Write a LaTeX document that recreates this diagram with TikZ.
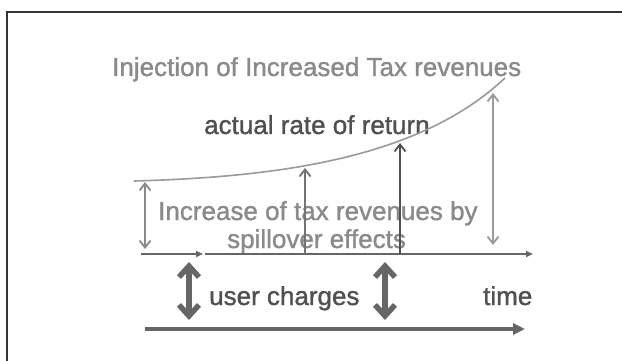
\documentclass[tikz,border=0pt]{standalone}
\usepackage{fontspec}
\setmainfont{Liberation Sans}
\newfontfamily\labelfont[FakeBold=1.2]{Liberation Sans}
\usetikzlibrary{arrows.meta}

\definecolor{lightgrey}{HTML}{8A8A8A}
\definecolor{darkgrey}{HTML}{505050}
\definecolor{midgrey}{HTML}{666666}
\definecolor{curvegrey}{HTML}{9A9A9A}

\begin{document}
\begin{tikzpicture}[
    x=1pt, y=-1pt,
    label/.style={font=\labelfont\fontsize{26}{30}\selectfont, inner sep=0pt, anchor=base west},
    thinarrow/.style={line width=1.8pt, {Straight Barb[length=7pt,width=11pt]}-{Straight Barb[length=7pt,width=11pt]}},
    uparrow/.style={line width=1.8pt, -{Straight Barb[length=7pt,width=11pt]}},
    axis/.style={line width=2pt, draw=midgrey, -{Triangle[length=7pt,width=6pt]}},
    fatarrow/.style={line width=5.5pt, draw=midgrey, {Straight Barb[length=11pt,width=20pt]}-{Straight Barb[length=11pt,width=20pt]}}
]

%Background
\useasboundingbox (0,0) rectangle (622,361);
\fill[white] (0,0) rectangle (622,361);
\draw[line width=1.5pt, draw=black!80] (7,361) -- (7,12) -- (622,12);

% Labels
\node[label, text=lightgrey] (injection) at (112,76) {Injection of Increased Tax revenues};
\node[label, text=darkgrey] (actual) at (204,134) {actual rate of return};
\node[label, text=lightgrey] (increase) at (158,220) {Increase of tax revenues by};
\node[label, text=lightgrey] (spillover) at (227,248) {spillover effects};
\node[label, text=darkgrey] (charges) at (209,305) {user charges};
\node[label, text=darkgrey] (time) at (483,305) {time};

% Curve
\coordinate (c_start) at (134,181);
\coordinate (c_end) at (505,78);
\draw[line width=1.6pt, draw=curvegrey] (c_start) .. controls (280,177) and (420,158) .. (c_end);

% Time axes
\coordinate (a_start) at (141,254);
\coordinate (a_mid) at (203,254);
\coordinate (b_start) at (205,254);
\coordinate (b_end) at (533,254);
\draw[axis] (a_start) -- (a_mid);
\draw[axis] (b_start) -- (b_end);

\coordinate (t_start) at (145,329);
\coordinate (t_end) at (525,329);
\draw[line width=3.5pt, draw=midgrey, -{Triangle[length=12pt,width=11pt]}] (t_start) -- (t_end);

% Vertical arrows
\coordinate (v1_top) at (145,182);
\coordinate (v1_bot) at (145,249);
\draw[thinarrow, draw=lightgrey] (v1_top) -- (v1_bot);

\coordinate (v2_bot) at (305,254);
\coordinate (v2_top) at (305,168);
\draw[uparrow, draw=black!55] (v2_bot) -- (v2_top);

\coordinate (v3_bot) at (400,254);
\coordinate (v3_top) at (400,143);
\draw[uparrow, draw=darkgrey] (v3_bot) -- (v3_top);

\coordinate (v4_top) at (493,93);
\coordinate (v4_bot) at (493,245);
\draw[thinarrow, draw=curvegrey] (v4_top) -- (v4_bot);

% User charges
\coordinate (u1_top) at (189,262);
\coordinate (u1_bot) at (189,320);
\draw[fatarrow] (u1_top) -- (u1_bot);

\coordinate (u2_top) at (385,262);
\coordinate (u2_bot) at (385,320);
\draw[fatarrow] (u2_top) -- (u2_bot);

\end{tikzpicture}
\end{document}
